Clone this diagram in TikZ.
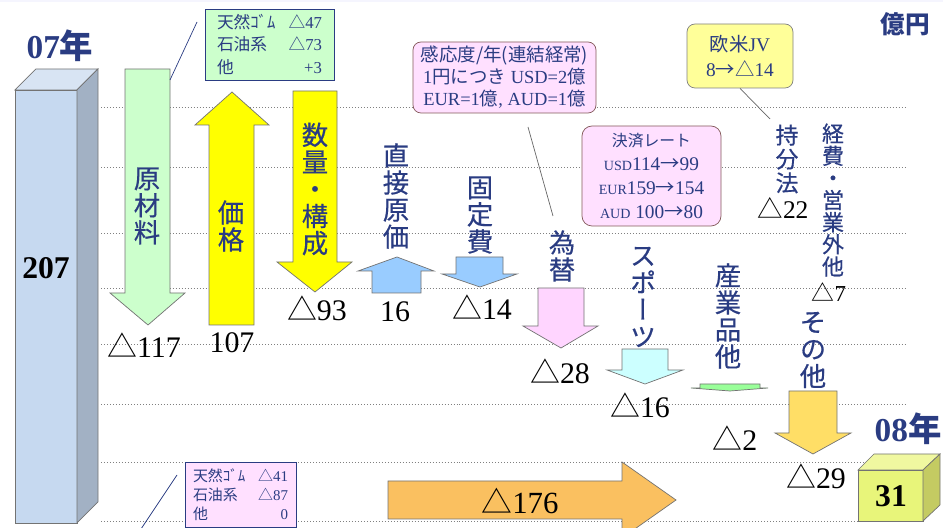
\documentclass[tikz,border=0pt]{standalone}
\usepackage{fontspec}
\setmainfont{Liberation Serif}
\newfontfamily\jp{Noto Sans CJK JP}
\newfontfamily\jpv[RawFeature=+vert, FakeBold=0.5]{Noto Sans CJK JP}
\newcommand{\J}[1]{{\jp #1}}
\usetikzlibrary{positioning}
\definecolor{navycolor}{RGB}{42,60,130}
\definecolor{barfront}{RGB}{198,217,240}
\definecolor{bartop}{RGB}{216,228,243}
\definecolor{barside}{RGB}{162,177,196}
\definecolor{rawgreen}{RGB}{204,255,204}
\definecolor{pricecolor}{RGB}{255,255,0}
\definecolor{costblue}{RGB}{153,204,255}
\definecolor{fxpink}{RGB}{255,213,255}
\definecolor{sportcyan}{RGB}{204,255,255}
\definecolor{indgreen}{RGB}{153,255,153}
\definecolor{othergold}{RGB}{255,222,102}
\definecolor{totalorange}{RGB}{250,192,96}
\definecolor{endfront}{RGB}{232,245,122}
\definecolor{endtop}{RGB}{240,248,160}
\definecolor{endside}{RGB}{196,203,98}
\definecolor{notepink}{RGB}{255,224,255}
\definecolor{notejv}{RGB}{255,255,153}

\begin{document}
\begin{tikzpicture}[
    x=0.2mm, y=-0.2mm,
    gridline/.style={draw=gray, line width=0.5pt, dash pattern=on 0.5pt off 1.2pt},
    blockarrow/.style={draw=gray!90!black, line width=0.4pt},
    vlabel/.style={font=\jpv\fontsize{15}{15.4}\selectfont, text=navycolor, align=center, inner sep=0pt},
    svlabel/.style={vlabel, font=\jpv\fontsize{13}{13.6}\selectfont},
    valuelabel/.style={font=\fontsize{17}{17}\selectfont, inner sep=0pt},
    notebox/.style={draw, align=center, text=navycolor, inner sep=0pt},
    yearlabel/.style={font=\bfseries\fontsize{19}{19}\selectfont, text=navycolor, inner sep=0pt},
    leader/.style={line width=0.4pt}
]
\useasboundingbox (0,0) rectangle (943,528);
\clip (0,0) rectangle (943,528);

% Frame and grid
\fill[black!10!blue!4] (0,0) rectangle (943,2);
\foreach \y in {107,167,233,288,344,404,462,521}
  \draw[gridline] (101,\y) -- (907,\y);

% 07 bar
\draw[blockarrow, fill=barfront] (15,90) rectangle (77,523);
\draw[blockarrow, fill=bartop] (15,90) -- (36,69) -- (98,69) -- (77,90) -- cycle;
\draw[blockarrow, fill=barside] (77,90) -- (98,69) -- (98,502) -- (77,523) -- cycle;
\node[font=\bfseries\fontsize{18}{18}\selectfont, inner sep=0pt] (startval) at (46,268) {207};
\node[yearlabel] (startyear) at (60,46) {07\J{年}};

% Step arrows
\draw[blockarrow, fill=rawgreen] (125,69) -- (170,69) -- (170,293) -- (185,293) -- (148,325) -- (110,293) -- (125,293) -- cycle;
\draw[blockarrow, fill=pricecolor] (209,325) -- (254,325) -- (254,125) -- (269,125) -- (232,92) -- (195,125) -- (209,125) -- cycle;
\draw[blockarrow, fill=pricecolor] (293,91) -- (337,91) -- (337,262) -- (352,262) -- (315,292) -- (277,262) -- (293,262) -- cycle;
\draw[blockarrow, fill=costblue] (372,293) -- (421,293) -- (421,271) -- (434,271) -- (397,257) -- (358,271) -- (372,271) -- cycle;
\draw[blockarrow, fill=costblue] (456,257) -- (503,257) -- (503,274) -- (517,274) -- (480,287) -- (442,274) -- (456,274) -- cycle;
\draw[blockarrow, fill=fxpink] (538,288) -- (584,288) -- (584,326) -- (598,326) -- (561,348) -- (523,326) -- (538,326) -- cycle;
\draw[blockarrow, fill=sportcyan] (622,349) -- (668,349) -- (668,370) -- (683,370) -- (645,384) -- (607,370) -- (622,370) -- cycle;
\draw[blockarrow, fill=indgreen] (700,384) -- (760,384) -- (760,388) -- (768,388) -- (730,391) -- (691,388) -- (700,388) -- cycle;
\draw[blockarrow, fill=othergold] (789,391) -- (837,391) -- (837,433) -- (851,433) -- (813,454) -- (775,433) -- (789,433) -- cycle;
\draw[blockarrow, fill=totalorange] (388,481) -- (622,481) -- (622,462) -- (676,500) -- (622,538) -- (622,519) -- (388,519) -- cycle;

% Vertical labels
\node[vlabel] (rawlabel) at (147,206) {原\\材\\料};
\node[vlabel] (pricelabel) at (231,226) {価\\格};
\node[vlabel] (volumelabel) at (315,189) {数\\量\\・\\構\\成};
\node[vlabel] (directlabel) at (396,196) {直\\接\\原\\価};
\node[vlabel] (fixedlabel) at (480,215) {固\\定\\費};
\node[vlabel] (fxlabel) at (562,256) {為\\替};
\node[vlabel] (sportlabel) at (643,297) {ス\\ポ\\ー\\ツ};
\node[vlabel] (indlabel) at (728,316) {産\\業\\品\\他};
\node[vlabel] (otherlabel) at (813,350) {そ\\の\\他};
\node[svlabel] (equitylabel) at (787,159) {持\\分\\法};
\node[svlabel, font=\jpv\fontsize{12.5}{12.6}\selectfont] (expenselabel) at (833,200) {経\\費\\・\\営\\業\\外\\他};

% Values
\node[valuelabel] (rawval) at (144,345) {\J{△}117};
\node[valuelabel] (priceval) at (232,343) {107};
\node[valuelabel] (volumeval) at (317,308) {\J{△}93};
\node[valuelabel] (directval) at (395,312) {16};
\node[valuelabel] (fixedval) at (482,307) {\J{△}14};
\node[valuelabel] (fxval) at (560,371) {\J{△}28};
\node[valuelabel] (sportval) at (640,405) {\J{△}16};
\node[valuelabel] (indval) at (735,438) {\J{△}2};
\node[valuelabel] (otherval) at (816,476) {\J{△}29};
\node[valuelabel, font=\fontsize{17.5}{17.5}\selectfont] (totalval) at (520,501) {\J{△}176};
\node[valuelabel, font=\fontsize{14.5}{14.5}\selectfont] (equityval) at (783,208) {\J{△}22};
\node[valuelabel, font=\fontsize{13}{13}\selectfont] (expenseval) at (829,292) {\J{△}7};

% Notes
\node[notebox, fill=rawgreen, draw=navycolor, minimum width=25.8mm, minimum height=14.2mm, font=\fontsize{9.5}{13}\selectfont] (rawbox) at (269.5,44.5)
  {\makebox[21mm]{\J{天然ｺﾞﾑ}\hfill\J{△}47}\\\makebox[21mm]{\J{石油系}\hfill\J{△}73}\\\makebox[21mm]{\J{他}\hfill+3}};
\node[notebox, fill=notepink, draw=black!45!red!30!gray, rounded corners=1.6mm, minimum width=36.6mm, minimum height=14.2mm, font=\fontsize{10.5}{12.5}\selectfont] (sensbox) at (504.5,77.5)
  {\J{感応度/年(連結経常)}\\1\J{円につき} USD=2\J{億}\\EUR=1\J{億}, AUD=1\J{億}};
\node[notebox, fill=notepink, draw=black!45!red!30!gray, rounded corners=2mm, minimum width=27.8mm, minimum height=20mm, font=\fontsize{11}{13.6}\selectfont] (ratebox) at (651.5,176)
  {{\fontsize{9}{9}\selectfont\J{決済レート}}\\{\fontsize{8}{8}\selectfont USD}114\J{→}99\\{\fontsize{8}{8}\selectfont EUR}159\J{→}154\\{\fontsize{8}{8}\selectfont AUD} 100\J{→}80};
\node[notebox, fill=notejv, draw=gray, rounded corners=1.6mm, minimum width=21.2mm, minimum height=12.8mm, font=\fontsize{11}{14.7}\selectfont] (jvbox) at (740,56)
  {\J{欧米}JV\\8\J{→△}14};
\node[notebox, fill=notepink, draw=navycolor, minimum width=22.2mm, minimum height=13mm, font=\fontsize{8.5}{10.8}\selectfont] (rawbox2) at (240.5,494.5)
  {\makebox[19mm]{\J{天然ｺﾞﾑ}\hfill\J{△}41}\\\makebox[19mm]{\J{石油系}\hfill\J{△}87}\\\makebox[19mm]{\J{他}\hfill 0}};

% Leaders
\coordinate (rawtip) at (170,80);
\coordinate (rawlead) at (197,22);
\coordinate (senstail) at (528,127);
\coordinate (senslead) at (553,216);
\coordinate (jvlead) at (770,119);
\coordinate (raw2tail) at (177,475);
\coordinate (raw2lead) at (137,535);
\draw[leader, navycolor] (rawtip) -- (rawlead);
\draw[leader, black!60] (senstail) -- (senslead);
\draw[leader, black!60] (jvbox.south) -- (jvlead);
\draw[leader, navycolor] (raw2tail) -- (raw2lead);

% 08 box
\draw[blockarrow, fill=endfront] (858,470) rectangle (923,521);
\draw[blockarrow, fill=endtop] (858,470) -- (874,454) -- (940,454) -- (923,470) -- cycle;
\draw[blockarrow, fill=endside] (923,470) -- (940,454) -- (940,505) -- (923,521) -- cycle;
\node[font=\bfseries\fontsize{18}{18}\selectfont, inner sep=0pt] (endval) at (891,496) {31};
\node[yearlabel] (endyear) at (908,429) {08\J{年}};

% Unit
\node[font=\jp\bfseries\fontsize{14}{14}\selectfont, text=navycolor, inner sep=0pt] (unit) at (905,24) {億円};

\end{tikzpicture}
\end{document}
